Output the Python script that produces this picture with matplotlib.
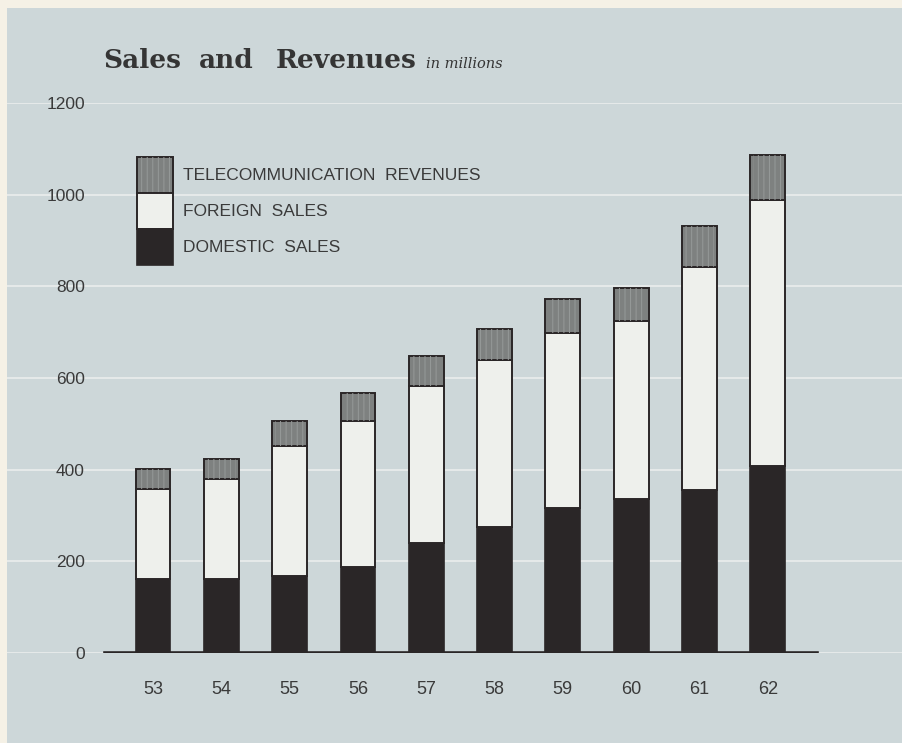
import numpy as np
import matplotlib
matplotlib.use("Agg")
import matplotlib.pyplot as plt
from matplotlib.patches import Rectangle
from matplotlib.legend_handler import HandlerTuple

# Sales and revenues, in millions
years = ["53", "54", "55", "56", "57", "58", "59", "60", "61", "62"]
domestic = [161, 161, 168, 188, 241, 274, 317, 335, 355, 409]
foreign = [197, 219, 284, 318, 342, 365, 382, 389, 488, 580]
telecom = [43, 43, 54, 61, 65, 67, 73, 72, 89, 97]
yticks = [0, 200, 400, 600, 800, 1000, 1200]

bg = "#cdd7d9"
paper = "#f5f1e6"
dark = "#2a2627"
white = "#eef0ec"
grey = "#7e8180"
txt = "#3a3a3a"
sans = "Liberation Sans"

fig = plt.figure(figsize=(9.02, 7.43), dpi=100, facecolor=paper)
fig.patches.append(Rectangle((7 / 902, 0), 1, (743 - 8) / 743,
                             transform=fig.transFigure, facecolor=bg,
                             edgecolor="none", zorder=-5))

ax = fig.add_axes([7 / 902, (743 - 653) / 743, 895 / 902, 550 / 743])
ax.set_facecolor("none")
for s in ax.spines.values():
    s.set_visible(False)

x = np.arange(len(years))
w = 0.51
dom = np.array(domestic)
frn = np.array(foreign)
tel = np.array(telecom)

b1 = ax.bar(x, dom, w, color=dark, edgecolor=dark, linewidth=1.2, zorder=3)
b2 = ax.bar(x, frn, w, bottom=dom, color=white, edgecolor=dark, linewidth=1.4, zorder=3)
b3 = ax.bar(x, tel, w, bottom=dom + frn, color=grey, edgecolor=dark, linewidth=1.4, zorder=3)
plt.rcParams["hatch.linewidth"] = 0.7
b3h = ax.bar(x, tel, w * 0.85, bottom=dom + frn, fill=False, hatch="|||",
             edgecolor="#969a99", linewidth=0, zorder=4)

ax.set_ylim(0, 1200)
ax.set_xlim(-2.138, 10.966)
ax.set_yticks(yticks)
ax.set_yticklabels([str(v) for v in yticks])
ax.set_xticks(x)
ax.set_xticklabels(years)
ax.tick_params(axis="y", length=0, pad=-56, labelsize=12.5, labelcolor=txt)
ax.tick_params(axis="x", length=0, pad=20, labelsize=13, labelcolor=txt)
for lab in ax.get_xticklabels() + ax.get_yticklabels():
    lab.set_fontfamily(sans)
ax.grid(axis="y", color="#f2f4f2", linewidth=1.1, alpha=0.85, zorder=1)
ax.set_axisbelow(True)
ax.axhline(0, xmin=(105 - 7) / 895, xmax=(817 - 7) / 895, color=dark,
           linewidth=2.6, zorder=5)

# legend drawn as one stacked column
leg = ax.legend([(b3[0], b3h[0]), b2[0], b1[0]],
                ["TELECOMMUNICATION  REVENUES", "FOREIGN  SALES", "DOMESTIC  SALES"],
                handler_map={tuple: HandlerTuple(ndivide=1)},
                loc="upper left", bbox_to_anchor=(137 / 902, 1 - 157 / 743),
                bbox_transform=fig.transFigure, frameon=False, borderpad=0,
                borderaxespad=0, labelspacing=0, handlelength=2.05,
                handleheight=2.81, handletextpad=0.6,
                prop={"family": sans, "size": 12.5})
for t in leg.get_texts():
    t.set_color(txt)

# title, word by word to get the wide spacing of the original
base = 1 - 68 / 743
tkw = dict(family="DejaVu Serif", weight="bold", size=19, color="#353535",
           va="baseline", ha="left")
fig.text(103 / 902, base, "Sales", **tkw)
fig.text(199 / 902, base, "and", **tkw)
fig.text(276 / 902, base, "Revenues", **tkw)
fig.text(426 / 902, base, "in millions", family="DejaVu Serif",
         style="italic", size=10.5, color="#353535", ha="left", va="baseline")

fig.savefig("out.png", dpi=100, facecolor=paper)
